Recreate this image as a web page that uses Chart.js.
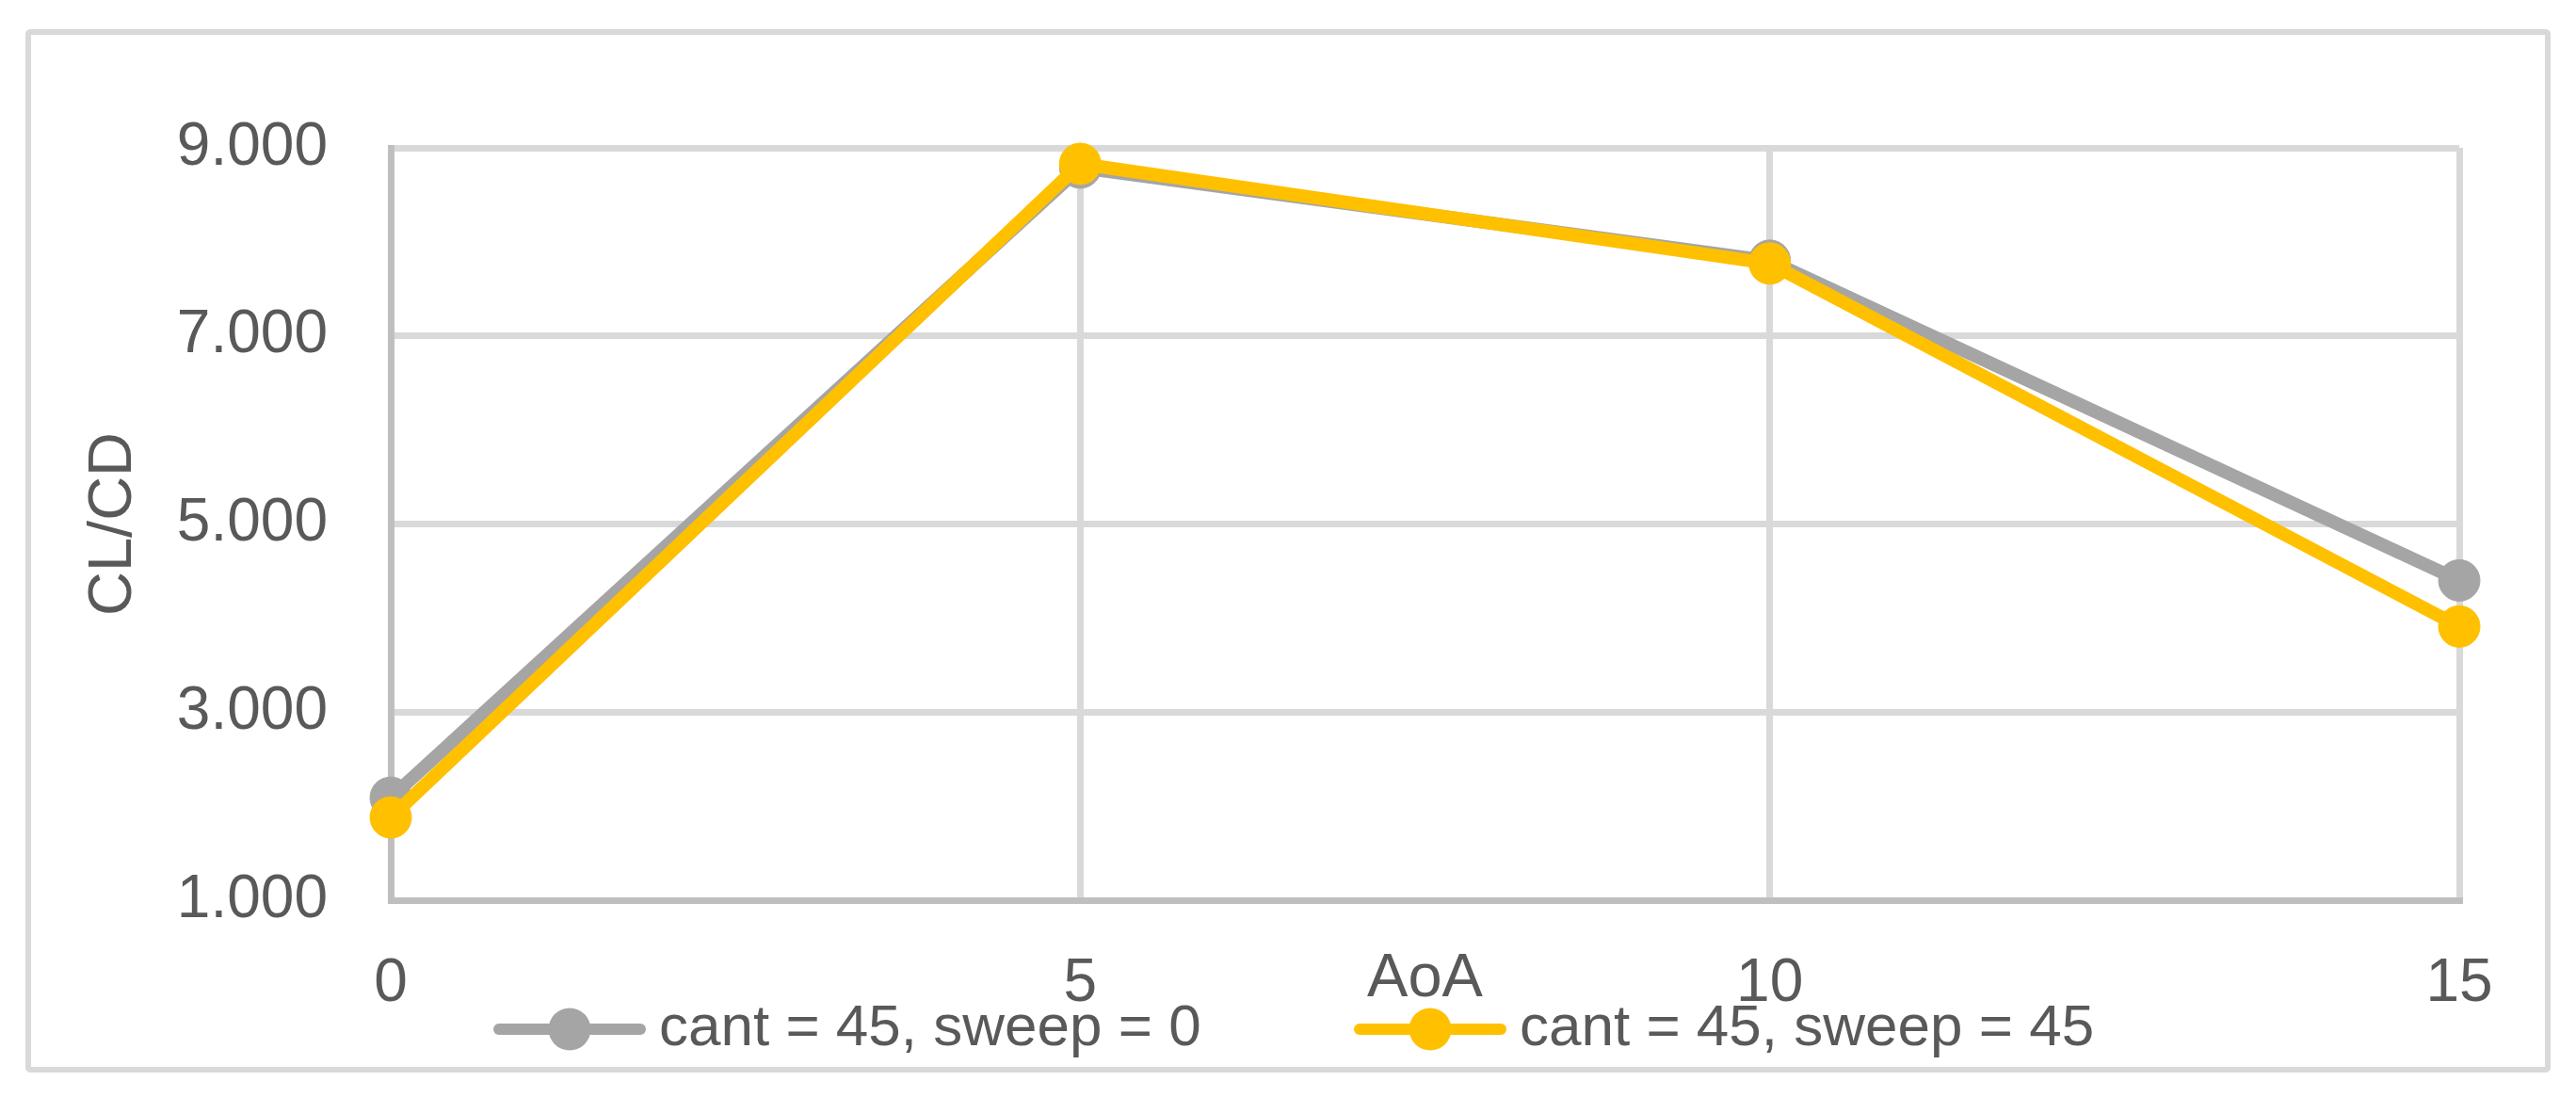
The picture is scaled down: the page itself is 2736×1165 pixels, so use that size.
<!DOCTYPE html>
<html><head><meta charset="utf-8">
<script src="https://cdn.jsdelivr.net/npm/chart.js@4.4.1/dist/chart.umd.min.js"></script>
<style>
html,body{margin:0;padding:0;background:#fff;}
#wrap{position:relative;width:2736px;height:1165px;}
#frame{position:absolute;left:27px;top:31px;width:2682px;height:1108px;border:6px solid #d9d9d9;box-sizing:border-box;border-radius:5px;pointer-events:none;}
canvas{display:block;}
</style></head><body>
<div id="wrap"><canvas id="c" width="2736" height="1165"></canvas><div id="frame"></div></div>
<script>
// ---- data ----
const aoaLabels = ['0', '5', '10', '15'];
const seriesNames = ['cant = 45, sweep = 0', 'cant = 45, sweep = 45'];
const sweep0 = [2.09, 8.79, 7.80, 4.40];
const sweep45 = [1.88, 8.83, 7.77, 3.91];
const yTickValues = [1, 3, 5, 7, 9];
const xTitle = 'AoA';
const yTitle = 'CL/CD';

// ---- styles ----
const FONT = "'Liberation Sans', Arial, sans-serif";
const seriesColors = ['#a5a5a5', '#ffc000'];
const TEXT = '#595959';

function legendSymbol(color) {
  const c = document.createElement('canvas');
  c.width = 162; c.height = 50;
  const g = c.getContext('2d');
  g.strokeStyle = color; g.lineWidth = 12; g.lineCap = 'round';
  g.beginPath(); g.moveTo(6, 25); g.lineTo(156, 25); g.stroke();
  g.fillStyle = color;
  g.beginPath(); g.arc(81, 25, 22.5, 0, Math.PI * 2); g.fill();
  return c;
}
const symbols = seriesColors.map(legendSymbol);

const legendMover = {
  id: 'legendMover',
  beforeDraw(chart) {
    const lg = chart.legend;
    if (lg) { lg.left = 361.6; lg.top = 882.6; lg.bottom = 1160; }
  }
};

const seriesValues = [sweep0, sweep45];
new Chart(document.getElementById('c'), {
  type: 'line',
  data: {
    labels: aoaLabels,
    datasets: seriesValues.map((vals, i) => ({
      label: seriesNames[i],
      data: vals,
      borderColor: seriesColors[i],
      backgroundColor: seriesColors[i],
      borderWidth: 14,
      borderJoinStyle: 'round',
      borderCapStyle: 'round',
      pointStyle: 'circle',
      pointRadius: 22,
      pointHoverRadius: 22,
      pointBackgroundColor: seriesColors[i],
      pointBorderColor: seriesColors[i],
      pointBorderWidth: 1,
      tension: 0,
      fill: false,
      clip: false,
      order: i === 0 ? 1 : 0
    }))
  },
  options: {
    responsive: false,
    animation: false,
    devicePixelRatio: 1,
    layout: { padding: { left: 0, right: 124, top: 157, bottom: 0 } },
    plugins: {
      tooltip: { enabled: false },
      legend: {
        position: 'bottom',
        align: 'start',
        maxHeight: 60,
        labels: {
          usePointStyle: true,
          pointStyleWidth: 128,
          boxHeight: 62,
          padding: 179.4,
          color: TEXT,
          font: { family: FONT, size: 62 },
          generateLabels: () => seriesNames.map((name, i) => ({
            text: name,
            fillStyle: seriesColors[i],
            strokeStyle: seriesColors[i],
            lineWidth: 0,
            pointStyle: symbols[i],
            hidden: false,
            datasetIndex: i,
            fontColor: TEXT
          }))
        }
      }
    },
    scales: {
      x: {
        type: 'category',
        grid: { color: c => c.index === 0 ? '#bfbfbf' : '#d9d9d9', lineWidth: 7, drawTicks: false },
        border: { color: '#bfbfbf', width: 7 },
        ticks: { color: TEXT, font: { family: FONT, size: 64 }, padding: 51, maxRotation: 0, autoSkip: false },
        title: { display: true, text: xTitle, color: TEXT, font: { family: FONT, size: 65 }, padding: { top: 0, bottom: 26 } },
        afterFit: s => { s.height = 149; }
      },
      y: {
        min: 1, max: 9,
        afterBuildTicks: s => { s.ticks = yTickValues.map(v => ({ value: v })); },
        grid: { color: c => c.index === 0 ? '#bfbfbf' : '#d9d9d9', lineWidth: 7, drawTicks: false },
        border: { color: '#bfbfbf', width: 7 },
        ticks: { color: TEXT, font: { family: FONT, size: 64 }, padding: 67, callback: v => Number(v).toFixed(3) },
        title: { display: true, text: yTitle, color: TEXT, font: { family: FONT, size: 65 }, padding: { top: 82, bottom: 0 } },
        afterFit: s => { s.width = 415; }
      }
    }
  },
  plugins: [legendMover]
});
</script>
</body></html>
